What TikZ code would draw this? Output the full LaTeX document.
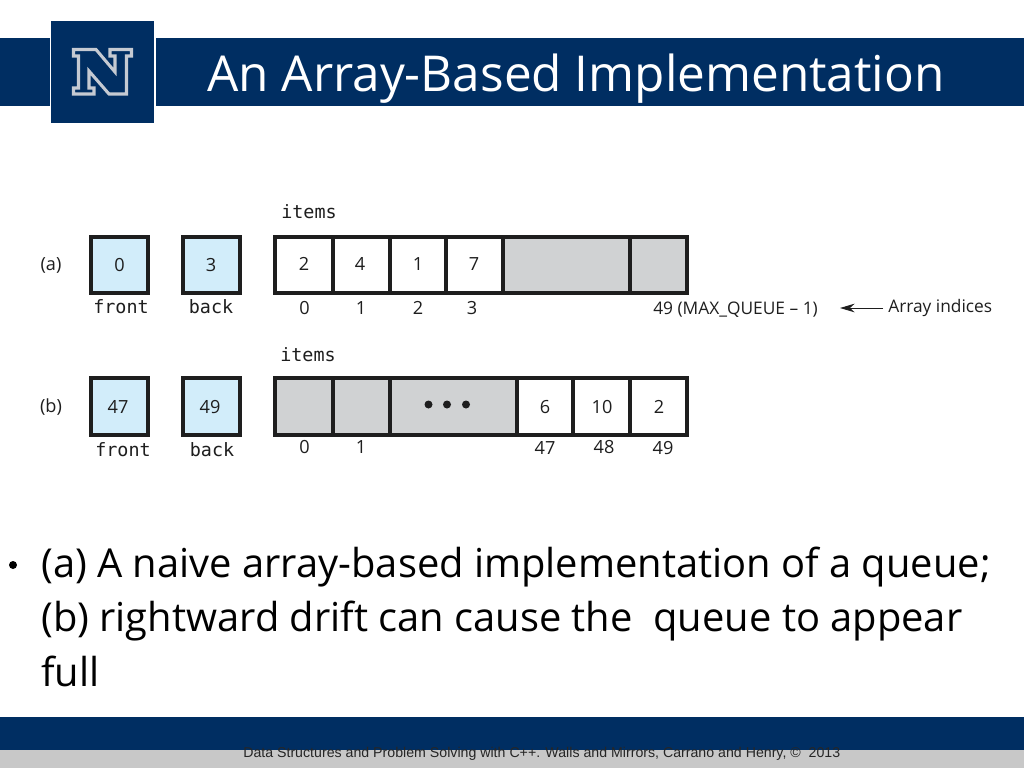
\documentclass[tikz,border=0pt]{standalone}
\usetikzlibrary{arrows.meta}
\usepackage{fontspec}
\setmainfont{Open Sans}
\newfontfamily\figfont{Open Sans}
\newfontfamily\codefont{DejaVu Sans Mono}
\newfontfamily\footfont{Liberation Sans}
\definecolor{navy}{HTML}{002E62}
\definecolor{cellgray}{HTML}{D0D2D3}
\definecolor{cellblue}{HTML}{D2EDFA}
\definecolor{ink}{HTML}{1E1E1E}
\definecolor{footgray}{HTML}{C8C8C8}
\definecolor{logogray}{HTML}{C5CAD2}
\tikzset{
  x=0.75pt,y=-0.75pt,
  cell/.style={draw=ink,line width=3pt,inner sep=0pt},
  numlab/.style={font=\figfont\fontsize{13.6}{15}\selectfont,text=ink,inner sep=0pt,anchor=center},
  codelab/.style={font=\codefont\fontsize{13.8}{15}\selectfont,text=ink,inner sep=0pt,anchor=center},
  sidelab/.style={font=\figfont\fontsize{13}{15}\selectfont,text=ink,inner sep=0pt,anchor=base west},
  bodytext/.style={font=\fontsize{29.9}{40}\selectfont,text=black,inner sep=0pt,anchor=base west},
}
\begin{document}
\begin{tikzpicture}
\useasboundingbox (0,0) rectangle (1024,768);
\fill[white] (0,0) rectangle (1024,768);
% header
\fill[navy] (0,37.5) rectangle (49.5,105.5);
\fill[navy] (155.5,37.5) rectangle (1024,105.5);
\fill[navy] (51,20.5) rectangle (153.5,122.5);
% logo N
\draw[logogray,line width=2.3pt,line join=miter,fill=navy]
 (73.5,49.5) -- (96,49.5) -- (115,72) -- (115,56) -- (110,56) -- (110,49.5) -- (131.5,49.5) -- (131.5,56) -- (126.5,56) -- (126.5,94)
 -- (109,94) -- (89,71) -- (89,88) -- (94,88) -- (94,94) -- (73.5,94) -- (73.5,88) -- (78.5,88) -- (78.5,56) -- (73.5,56) -- cycle;
\node[font=\fontsize{37.1}{40}\selectfont,text=white,inner sep=0pt,anchor=base west] (title) at (207,91) {An Array-Based Implementation};
% footer
\fill[footgray] (0,750) rectangle (1024,768);
\fill[navy] (0,716.5) rectangle (1024,750);
\node[font=\footfont\fontsize{10.63}{12}\selectfont,text=black!85,inner sep=0pt,anchor=base west] (foot) at (243,757) {Data Structures and Problem Solving with C++. Walls and Mirrors, Carrano and Henry, \textcopyright\ \ 2013};
% row a
\node[numlab] (la) at (51,265) {(a)};
\draw[cell,fill=cellblue] (91,237) rectangle (148,293);
\node[numlab] (fa) at (119.5,265) {0};
\draw[cell,fill=cellblue] (183,237) rectangle (240,293);
\node[numlab] (ba) at (211,265) {3};
\node[codelab] (fna) at (121,307) {front};
\node[codelab] (bna) at (211,307) {back};
\node[codelab] (ia) at (309,211.5) {items};
\draw[cell,fill=cellgray] (503,237) rectangle (686.5,293);
\draw[cell,fill=white] (275,237) rectangle (503,293);
\foreach \x in {333,389.5,446,503,630} \draw[cell] (\x,237) -- (\x,293);
\node[numlab] (a1) at (304,264) {2};
\node[numlab] (a2) at (360,264) {4};
\node[numlab] (a3) at (418,264) {1};
\node[numlab] (a4) at (474,264) {7};
\node[numlab] (i0) at (304.5,308) {0};
\node[numlab] (i1) at (361,308) {1};
\node[numlab] (i2) at (418,308) {2};
\node[numlab] (i3) at (472,308) {3};
\node[sidelab] (i49) at (653,314) {49 (MAX\_QUEUE – 1)};
\node[sidelab] (ai) at (888,312.5) {Array indices};
\coordinate (arrend) at (840,308);
\draw[ink,line width=0.75pt,-{Stealth[length=11pt,width=6.5pt]}] (ai.west |- arrend) ++(-5,0) -- (arrend);
% row b
\node[numlab] (lb) at (51,407) {(b)};
\draw[cell,fill=cellblue] (91,378) rectangle (148,435);
\node[numlab] (fb) at (118,407) {47};
\draw[cell,fill=cellblue] (183,378) rectangle (240,435);
\node[numlab] (bb) at (210,407) {49};
\node[codelab] (fnb) at (123,450) {front};
\node[codelab] (bnb) at (212,450) {back};
\node[codelab] (ib) at (308,355) {items};
\draw[cell,fill=cellgray] (275,378) rectangle (516.5,435);
\draw[cell,fill=white] (516.5,378) rectangle (686.5,435);
\foreach \x in {333,389.5,573,630} \draw[cell] (\x,378) -- (\x,435);
\foreach \x in {428.5,447,466} \fill[ink] (\x,404.5) circle (4);
\node[numlab] (b1) at (545,407) {6};
\node[numlab] (b2) at (602,407) {10};
\node[numlab] (b3) at (659,407) {2};
\node[numlab] (j0) at (304.5,447.5) {0};
\node[numlab] (j1) at (361,447.5) {1};
\node[numlab] (j47) at (545,448) {47};
\node[numlab] (j48) at (604,447) {48};
\node[numlab] (j49) at (663,448) {49};
% body
\fill (13,565) circle (4);
\node[bodytext] (l1) at (41,577) {(a) A naive array-based implementation of a queue;};
\node[bodytext] (l2) at (41,631) {(b) rightward drift can cause the\ \ queue to appear};
\node[bodytext] (l3) at (41,686) {full};
\end{tikzpicture}
\end{document}
